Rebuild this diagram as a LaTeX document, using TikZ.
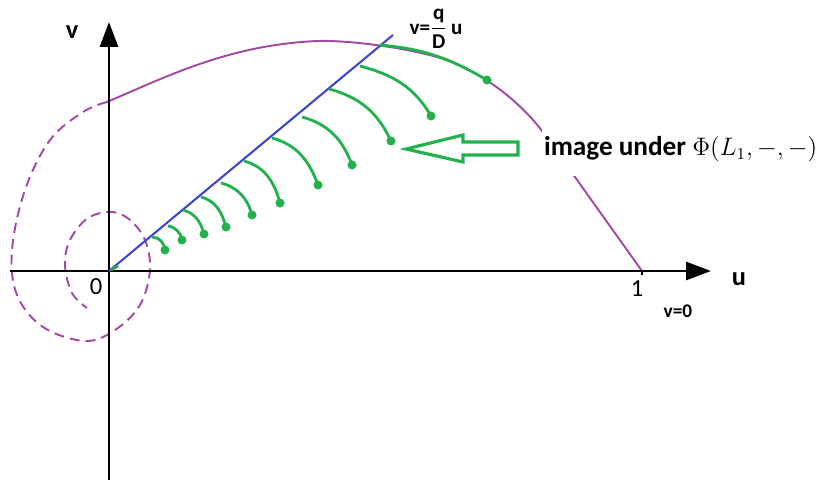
\documentclass[tikz,border=0pt]{standalone}
\usepackage{amsmath}
\usepackage{fontspec}
\setsansfont{Carlito}
\usepackage{tikz}
\usetikzlibrary{positioning,arrows.meta}
\definecolor{paintpurple}{RGB}{163,73,164}
\definecolor{paintgreen}{RGB}{34,177,76}
\definecolor{paintblue}{RGB}{63,72,204}

\begin{document}
\begin{tikzpicture}[
    x=0.02cm, y=-0.02cm,
    axis/.style={line width=1.6pt, -{Triangle[length=0.5cm, width=0.36cm]}},
    orbit/.style={paintpurple, line width=1.1pt},
    flow/.style={paintgreen, line width=1.6pt},
    lbl/.style={font=\sffamily\bfseries, inner sep=0pt},
    dot/.style={circle, fill=paintgreen, inner sep=0pt, minimum size=0.18cm}
]
\useasboundingbox (0,0) rectangle (822,480);

\coordinate (O) at (109,271);
\coordinate (xs) at (10,271);
\coordinate (xe) at (711,271);
\coordinate (ys) at (109,480);
\coordinate (ye) at (109,22);
\coordinate (one) at (642,271);
\coordinate (le) at (393,35);

% purple curves
\draw[orbit] (107,102) .. controls (170,75) and (230,45) .. (317,41)
    .. controls (350,40) and (410,48) .. (447,60)
    .. controls (480,72) and (520,100) .. (545,135)
    -- (one);
\draw[orbit, dash pattern=on 0.2cm off 0.12cm] plot[smooth, tension=0.6] coordinates {
    (107,102) (83,112) (50,140) (25,190) (12,250) (17,295) (43,327) (85,341)
    (115,330) (140,305) (150,270) (145,240) (130,220) (112,212) (88,218)
    (70,240) (65,265) (72,293) (87,308)};

% axes
\draw[axis] (xs) -- (xe);
\draw[axis] (ys) -- (ye);
\draw[line width=1.2pt] (one) -- ++(0,4);

% line v = q/D u
\draw[paintblue, line width=1.2pt] (O) -- (le);

% green flow lines
\draw[flow] (111,270) -- (118,266);
\foreach \sx/\sy/\ex/\ey/\o/\i in {
    152/237/165/250/0/95, 168/226/182/240/-10/100, 183/210/204/234/-15/105,
    201/197/226/227/-15/105, 221/183/252/215/-15/105, 244/161/280/203/-15/105,
    272/138/318/185/-15/110, 302/117/352/165/-15/110, 329/89/391/141/-15/115,
    360/66/431/116/-15/120, 380/45/487/80/-5/150} {
  \draw[flow] (\sx,\sy) to[out=\o, in=\i] (\ex,\ey);
  \node[dot] at (\ex,\ey) {};
}

% hollow arrow
\draw[paintgreen, line width=1.8pt, line join=miter, fill=white]
    (406,149) -- (463,135) -- (463,142) -- (518,142) -- (518,155)
    -- (463,155) -- (463,162) -- cycle;

% labels
\node[lbl, anchor=west, fill=white, inner xsep=1pt, inner ysep=8pt,
      font=\sffamily\bfseries\fontsize{15.5}{19}\selectfont]
    (img) at (542,149) {image under {\fontsize{13.5}{17}\selectfont$\Phi(L_{\mathrm{1}},-,-)$}};
\node[lbl, font=\sffamily\bfseries\fontsize{15}{18}\selectfont] (vl) at (72,32) {v};
\node[lbl, font=\sffamily\bfseries\fontsize{15}{18}\selectfont] (ul) at (739,279) {u};
\node[lbl, font=\sffamily\fontsize{14}{16}\selectfont] (zero) at (96,287) {0};
\node[lbl, font=\sffamily\fontsize{14}{16}\selectfont] (onel) at (637,289) {1};
\node[lbl, font=\sffamily\bfseries\fontsize{11}{13}\selectfont] (vz) at (678,311) {v=0};
\node[lbl, font=\sffamily\bfseries\fontsize{12}{14}\selectfont] (vq) at (436,29)
    {v=$\dfrac{\text{\sffamily\bfseries q}}{\text{\sffamily\bfseries D}}$\,u};
\end{tikzpicture}
\end{document}
